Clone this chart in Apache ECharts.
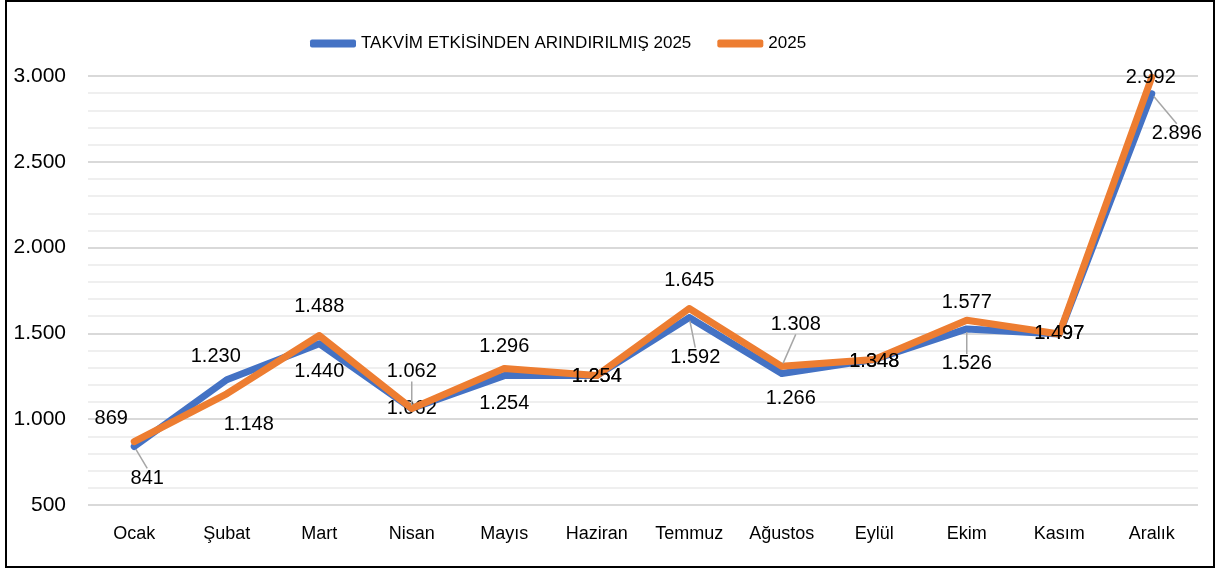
<!DOCTYPE html>
<html>
<head>
<meta charset="utf-8">
<script src="https://cdn.jsdelivr.net/npm/echarts@6/dist/echarts.min.js"></script>
<style>
    html, body { margin: 0; padding: 0; background: #fff; }
    #chart { width: 1217px; height: 570px; }
</style>
</head>
<body>
<div id="chart"></div>
<script>
// aylar
var months = ['Ocak', 'Şubat', 'Mart', 'Nisan', 'Mayıs', 'Haziran', 'Temmuz', 'Ağustos', 'Eylül', 'Ekim', 'Kasım', 'Aralık'];
// takvim etkisinden arındırılmış
var adjusted = [841, 1230, 1440, 1062, 1254, 1254, 1592, 1266, 1348, 1526, 1497, 2896];
// ham seri
var raw = [869, 1148, 1488, 1062, 1296, 1254, 1645, 1308, 1348, 1577, 1497, 2992];
var yTicks = [500, 1000, 1500, 2000, 2500, 3000];

// etiket kaydırmaları [dx, dy, kılavuz çizgi]
var adjLabelPos = [[13, 32, 1], [-11, -23, 0], [0, 28, 0], [0, 0, 0], [0, 28, 0], [0, 1, 0], [6, 40, 1], [9, 25, 0], [0, 2, 0], [0, 35, 1], [0, 0, 0], [25, 40, 1]];
var rawLabelPos = [[-23, -23, 0], [22, 31, 0], [0, -29, 0], [0, -37, 1], [0, -22, 0], [0, 1, 0], [0, -28, 0], [14, -42, 1], [0, 2, 0], [0, -18, 0], [0, 0, 0], [-1, 0, 0]];

function fmt(v) {
    return String(v).replace(/\B(?=(\d{3})+(?!\d))/g, '.');
}

function buildData(values, pos) {
    return values.map(function (v, i) {
        return {
            value: v,
            labelLine: { show: !!pos[i][2] }
        };
    });
}

var myChart = echarts.init(document.getElementById('chart'));

var labelFont = { fontFamily: 'Liberation Sans', fontSize: 20, color: '#000' };

function makeSeries(name, values, pos, color, z) {
    return {
        name: name,
        type: 'line',
        data: buildData(values, pos),
        symbol: 'circle',
        symbolSize: 6,
        itemStyle: { color: color },
        lineStyle: { width: 7, color: color, cap: 'round', join: 'round' },
        z: z,
        label: {
            show: true,
            position: 'inside',
            fontFamily: labelFont.fontFamily,
            fontSize: labelFont.fontSize,
            color: labelFont.color,
            formatter: function (p) { return fmt(p.value); }
        },
        labelLine: {
            lineStyle: { color: '#a6a6a6', width: 1.5 }
        },
        labelLayout: function (p) {
            return { dx: pos[p.dataIndex][0], dy: pos[p.dataIndex][1] };
        },
        emphasis: { disabled: true }
    };
}

var option = {
    animation: false,
    color: ['#4472c4', '#ed7d31'],
    legend: {
        top: 30,
        left: 305,
        itemWidth: 46,
        itemHeight: 8,
        itemGap: 26,
        icon: 'roundRect',
        textStyle: { fontFamily: 'Liberation Sans', fontSize: 17, color: '#000' },
        data: ['TAKVİM ETKİSİNDEN ARINDIRILMIŞ 2025', '2025']
    },
    grid: {
        left: 88,
        right: 19,
        top: 76,
        bottom: 65,
        containLabel: false
    },
    xAxis: {
        type: 'category',
        boundaryGap: true,
        data: months,
        axisLine: { show: false },
        axisTick: { show: false },
        axisLabel: { fontFamily: 'Liberation Sans', fontSize: 18, color: '#000', margin: 20 }
    },
    yAxis: {
        type: 'value',
        min: yTicks[0],
        max: yTicks[yTicks.length - 1],
        interval: 500,
        axisLine: { show: false },
        axisTick: { show: false },
        axisLabel: {
            fontFamily: 'Liberation Sans', fontSize: 21, color: '#000', margin: 22,
            formatter: function (v) { return fmt(v); }
        },
        splitLine: { lineStyle: { color: '#d9d9d9', width: 2 } },
        minorTick: { show: false, splitNumber: 5 },
        minorSplitLine: { show: true, lineStyle: { color: '#efefef', width: 2 } }
    },
    graphic: [{
        type: 'rect',
        shape: { x: 6, y: 1, width: 1208, height: 566 },
        style: { fill: null, stroke: '#000', lineWidth: 2 },
        silent: true
    }],
    series: [
        makeSeries('TAKVİM ETKİSİNDEN ARINDIRILMIŞ 2025', adjusted, adjLabelPos, '#4472c4', 2),
        makeSeries('2025', raw, rawLabelPos, '#ed7d31', 3)
    ]
};

myChart.setOption(option);
window.addEventListener('resize', function () {
    myChart.resize();
});
</script>
</body>
</html>
